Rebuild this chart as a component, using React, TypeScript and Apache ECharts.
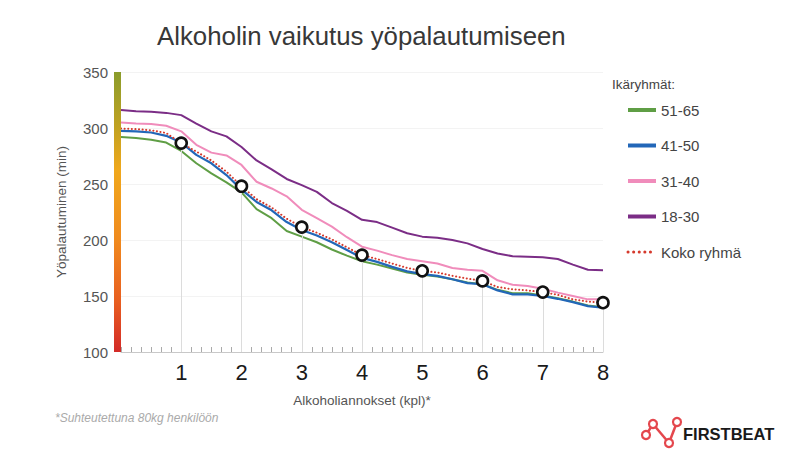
import React, { useEffect, useRef } from "react";
import * as echarts from "echarts";

const xValues = [0, 0.25, 0.5, 0.75, 1, 1.25, 1.5, 1.75, 2, 2.25, 2.5, 2.75, 3, 3.25, 3.5, 3.75, 4, 4.25, 4.5, 4.75, 5, 5.25, 5.5, 5.75, 6, 6.25, 6.5, 6.75, 7, 7.25, 7.5, 7.75, 8];

const age5165 = [292, 291, 289.5, 287, 279.5, 268.5, 259.5, 251.5, 242.5, 227.5, 219.5, 208, 203, 198, 191.5, 186, 181, 178, 174.5, 171, 169, 167.5, 165, 162, 160.5, 155.5, 152.5, 152.5, 150.5, 148, 145, 141.5, 140];
const age4150 = [297.5, 297, 296, 293, 287, 276, 268.5, 258, 245, 234, 226.5, 216, 209, 204, 198, 191, 184, 180.5, 176, 172, 169.5, 168, 165, 161.5, 160.5, 155, 151.5, 151.5, 150, 147.5, 144.5, 141, 139.5];
const age3140 = [305, 304, 303.5, 302, 297, 285, 278, 275.5, 267, 252, 246, 239, 227, 219.5, 212, 202.5, 194, 190.5, 186.5, 183, 181, 179, 175, 173.5, 172.5, 164, 160, 159, 156.5, 153, 150, 147, 147];
const age1830 = [316, 315, 314.5, 313.5, 311.5, 304, 297, 292.5, 283, 271, 263, 254.5, 249, 243, 233, 226, 218, 216, 211, 206, 203, 202, 200, 197, 192, 188, 185.5, 185, 184.5, 183, 178, 173.5, 173];
const kokoRyhma = [299.5, 299, 298, 295.5, 286.5, 279, 271, 261, 248, 236.5, 229, 219, 211.5, 206.5, 200.5, 193.5, 186.5, 183, 179, 175, 172.5, 171, 168, 165.5, 163.5, 158, 156, 155, 153.5, 151, 147, 145, 144];

const yTicks = [100, 150, 200, 250, 300, 350];
const xTickLabels = ["1", "2", "3", "4", "5", "6", "7", "8"];

const FONT = "Liberation Sans, Arial, Helvetica, sans-serif";
const LOGO_RED = "#e4474d";

const zip = (ys: number[]) => xValues.map((x, i) => [x, ys[i]]);

export default function App() {
  const ref = useRef<HTMLDivElement>(null);
  useEffect(() => {
    if (!ref.current) return;
    const chart = echarts.init(ref.current, null, { renderer: "svg" });
    const markers = xValues
      .map((x, i) => [x, kokoRyhma[i]])
      .filter(([x]) => Number.isInteger(x) && x > 0);
    const yMin = yTicks[0];
    const yMax = yTicks[yTicks.length - 1];
    const hidden = { opacity: 0, color: "transparent", borderColor: "transparent", borderWidth: 0 };

    const option: any = {
      animation: false,
      backgroundColor: "#ffffff",
      textStyle: { fontFamily: FONT },
      title: [
        {
          text: "Alkoholin vaikutus yöpalautumiseen",
          left: 157,
          top: 23,
          padding: 0,
          textStyle: { fontSize: 25.8, fontWeight: "normal", color: "#383838", fontFamily: FONT },
        },
        {
          text: "Ikäryhmät:",
          left: 612,
          top: 77,
          padding: 0,
          textStyle: { fontSize: 13.5, fontWeight: "normal", color: "#444444", fontFamily: FONT },
        },
        {
          text: "*Suhteutettuna 80kg henkilöön",
          left: 55,
          top: 412,
          padding: 0,
          textStyle: { fontSize: 12, fontStyle: "italic", fontWeight: "normal", color: "#aaaaaa", fontFamily: FONT },
        },
      ],
      legend: {
        orient: "vertical",
        left: 626,
        top: 102,
        padding: 0,
        itemWidth: 28,
        itemHeight: 16,
        itemGap: 19.5,
        textStyle: { fontSize: 15, color: "#444444", fontFamily: FONT, lineHeight: 16 },
        data: [
          { name: "51-65", lineStyle: { width: 4 }, itemStyle: hidden },
          { name: "41-50", lineStyle: { width: 4 }, itemStyle: hidden },
          { name: "31-40", lineStyle: { width: 4 }, itemStyle: hidden },
          { name: "18-30", lineStyle: { width: 4 }, itemStyle: hidden },
          { name: "Koko ryhmä", lineStyle: { width: 3, type: [0.1, 5.5], cap: "round" }, itemStyle: hidden },
        ],
      },
      grid: { left: 121, top: 72, width: 482, height: 280, containLabel: false },
      xAxis: {
        type: "value",
        min: 0,
        max: 8,
        interval: 1,
        name: "Alkoholiannokset (kpl)*",
        nameLocation: "middle",
        nameGap: 41,
        nameTextStyle: { fontSize: 13.5, color: "#555555", fontFamily: FONT },
        axisLine: { show: true, lineStyle: { color: "#c8c8c8", width: 1 } },
        axisTick: { show: true, inside: true, length: 5, lineStyle: { color: "#aaaaaa" } },
        minorTick: { show: true, splitNumber: 6, length: 5, lineStyle: { color: "#aaaaaa" } },
        splitLine: { show: false },
        axisLabel: {
          margin: 9,
          fontSize: 22,
          color: "#1a1a1a",
          fontFamily: FONT,
          formatter: (v: number) => (v >= 1 ? xTickLabels[v - 1] : ""),
        },
      },
      yAxis: {
        type: "value",
        min: yMin,
        max: yMax,
        interval: 50,
        name: "Yöpalautuminen (min)",
        nameLocation: "middle",
        nameGap: 53,
        nameTextStyle: { fontSize: 13.5, color: "#555555", fontFamily: FONT },
        axisLine: { show: false },
        axisTick: { show: false },
        splitLine: { show: true, lineStyle: { color: "#f3f3f3", width: 1 } },
        axisLabel: { margin: 13, fontSize: 15, color: "#555555", fontFamily: FONT },
      },
      graphic: [
        {
          type: "rect",
          shape: { x: 114, y: 72, width: 7, height: 280 },
          z: 10,
          style: {
            fill: new echarts.graphic.LinearGradient(0, 0, 0, 1, [
              { offset: 0, color: "#8a9c2c" },
              { offset: 0.2, color: "#c2a221" },
              { offset: 0.35, color: "#f0a81c" },
              { offset: 0.6, color: "#f08a1e" },
              { offset: 0.82, color: "#e85e20" },
              { offset: 1, color: "#d32a28" },
            ]),
          },
        },
        { type: "line", shape: { x1: 646, y1: 435, x2: 653, y2: 424 }, style: { stroke: LOGO_RED, lineWidth: 2.5 } },
        { type: "line", shape: { x1: 653, y1: 424, x2: 669, y2: 443 }, style: { stroke: LOGO_RED, lineWidth: 2.5 } },
        { type: "line", shape: { x1: 669, y1: 443, x2: 677, y2: 422 }, style: { stroke: LOGO_RED, lineWidth: 2.5 } },
        { type: "circle", shape: { cx: 646, cy: 435, r: 4 }, style: { fill: "#fff", stroke: LOGO_RED, lineWidth: 2.2 } },
        { type: "circle", shape: { cx: 653, cy: 424, r: 4 }, style: { fill: "#fff", stroke: LOGO_RED, lineWidth: 2.2 } },
        { type: "circle", shape: { cx: 669, cy: 443, r: 4 }, style: { fill: "#fff", stroke: LOGO_RED, lineWidth: 2.2 } },
        { type: "circle", shape: { cx: 677, cy: 422, r: 4 }, style: { fill: "#fff", stroke: LOGO_RED, lineWidth: 2.2 } },
        {
          type: "text",
          x: 683,
          y: 425,
          style: { text: "FIRSTBEAT", fill: "#1a1a1a", font: "bold 16.5px " + FONT },
        },
      ],
      series: [
        {
          name: "18-30",
          type: "line",
          data: zip(age1830),
          symbol: "none",
          z: 1,
          lineStyle: { color: "#7b2d86", width: 2 },
          itemStyle: { color: "#7b2d86" },
          markLine: {
            silent: true,
            symbol: ["none", "none"],
            label: { show: false },
            lineStyle: { color: "#dcdcdc", width: 1, type: "solid" },
            data: markers.map(([x, y]) => [{ coord: [x, y] }, { coord: [x, yMin] }]),
          },
        },
        {
          name: "31-40",
          type: "line",
          data: zip(age3140),
          symbol: "none",
          lineStyle: { color: "#f08cbb", width: 2 },
          itemStyle: { color: "#f08cbb" },
        },
        {
          name: "51-65",
          type: "line",
          data: zip(age5165),
          symbol: "none",
          lineStyle: { color: "#5f9e45", width: 2 },
          itemStyle: { color: "#5f9e45" },
        },
        {
          name: "41-50",
          type: "line",
          data: zip(age4150),
          symbol: "none",
          lineStyle: { color: "#2267b8", width: 2.2 },
          itemStyle: { color: "#2267b8" },
        },
        {
          name: "Koko ryhmä",
          type: "line",
          data: zip(kokoRyhma),
          symbol: "none",
          lineStyle: { color: "#d5392c", width: 2, type: [0.1, 3.5], cap: "round" },
          itemStyle: { color: "#d5392c" },
        },
        {
          name: "markers",
          type: "scatter",
          data: markers,
          symbol: "circle",
          symbolSize: 11,
          z: 5,
          itemStyle: { color: "#ffffff", borderColor: "#111111", borderWidth: 2.6, opacity: 1 },
        },
      ],
    };
    chart.setOption(option);
    return () => chart.dispose();
  }, []);
  return (
    <div
      ref={ref}
      style={{ position: "absolute", left: 0, top: 0, width: 800, height: 468 }}
    />
  );
}
